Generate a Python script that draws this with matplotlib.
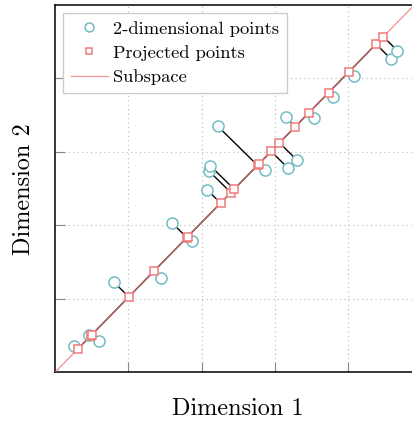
import numpy as np
import matplotlib
matplotlib.use("Agg")
import matplotlib.pyplot as plt

plt.rcParams['font.family'] = 'serif'
plt.rcParams['font.serif'] = ['cmr10']
plt.rcParams['mathtext.fontset'] = 'cm'
plt.rcParams['axes.unicode_minus'] = False

# 2-dimensional sample points
xs = [0.26, 0.47, 0.60, 0.80, 1.45, 1.60, 1.87, 2.08, 2.10, 2.12,
      2.22, 2.87, 3.18, 3.30, 3.15, 3.54, 3.79, 4.08, 4.58, 4.67]
ys = [0.36, 0.51, 0.42, 1.23, 1.28, 2.03, 1.79, 2.48, 2.74, 2.81,
      3.35, 2.76, 2.78, 2.89, 3.47, 3.46, 3.75, 4.03, 4.27, 4.38]

# direction of the 1-d subspace (through the origin)
SLOPE = 1.02
LIMIT = 5

CIRCLE_COLOR = '#72bcc3'
RED = '#f07a7a'


def main():
    pts = np.column_stack([xs, ys])
    d = np.array([1.0, SLOPE])
    d /= np.linalg.norm(d)
    proj = np.outer(pts @ d, d)

    fig = plt.figure(figsize=(4.12, 4.21), dpi=100)
    ax = fig.add_axes([55 / 412, (421 - 372.3) / 421, 366.5 / 412, 367.3 / 421])

    # projection segments
    for p, q in zip(pts, proj):
        ax.plot([p[0], q[0]], [p[1], q[1]], color='black', lw=1.0, zorder=2)

    # black trace along the projected points, under the subspace line
    order = np.argsort(proj[:, 0])
    ax.plot(proj[order, 0], proj[order, 1], color='black', lw=1.0, zorder=2)

    line_x = np.array([0, LIMIT])
    ax.plot(line_x, SLOPE * line_x, color=RED, lw=1.0, alpha=0.75, zorder=3,
            label='Subspace')

    ax.plot(xs, ys, 'o', ms=8, mfc='white', mec=CIRCLE_COLOR, mew=1.1,
            zorder=4, label='2-dimensional points')
    ax.plot(proj[:, 0], proj[:, 1], 's', ms=6, mfc='white', mec=RED, mew=1.1,
            zorder=5, label='Projected points')

    ax.set_xlim(0, LIMIT)
    ax.set_ylim(0, LIMIT)
    ax.set_xticks([1, 2, 3, 4])
    ax.set_yticks([1, 2, 3, 4])
    ax.set_xticklabels([])
    ax.set_yticklabels([])
    ax.tick_params(direction='in', length=7, width=0.8, color='#888888')
    ax.grid(True, linestyle=(0, (1, 3)), color='#bbbbbb', lw=0.8)
    for s in ax.spines.values():
        s.set_linewidth(1.1)

    ax.set_xlabel('Dimension 1', fontsize=17.5, labelpad=15)
    ax.set_ylabel('Dimension 2', fontsize=17.5, labelpad=11)

    handles, labels = ax.get_legend_handles_labels()
    order_leg = [labels.index(n) for n in
                 ['2-dimensional points', 'Projected points', 'Subspace']]
    leg = ax.legend([handles[i] for i in order_leg], [labels[i] for i in order_leg],
                    loc='upper left', fontsize=13.3, fancybox=False,
                    edgecolor='#cccccc', framealpha=1, borderaxespad=0.45,
                    markerscale=0.8, borderpad=0.4, labelspacing=0.45,
                    handlelength=2.0, handletextpad=0.3)
    leg.get_frame().set_linewidth(1.0)

    fig.savefig('out.png', dpi=100)


if __name__ == "__main__":
    main()
